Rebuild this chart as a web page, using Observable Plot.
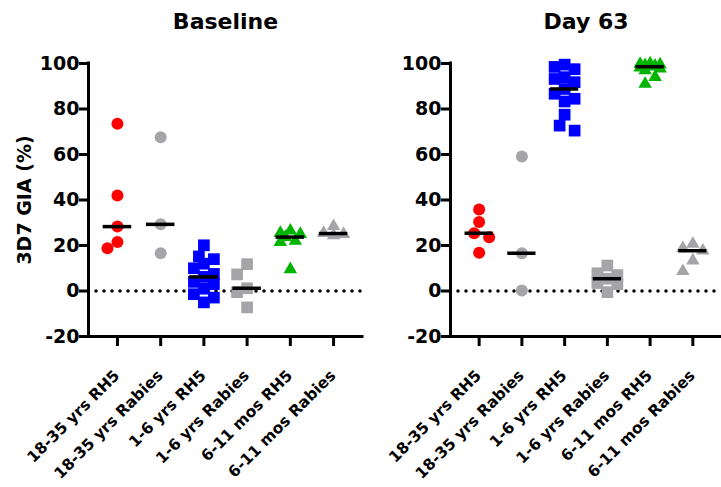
<!DOCTYPE html>
<html>
<head>
<meta charset="utf-8">
<script src="https://cdn.jsdelivr.net/npm/d3@7"></script>
<script src="https://cdn.jsdelivr.net/npm/@observablehq/plot@0.6"></script>
<style>
  html, body { margin: 0; padding: 0; background: #ffffff; }
  #chart { position: relative; width: 721px; height: 487px; overflow: hidden; background: #ffffff; }
  #chart svg { position: absolute; top: 0; max-width: none; }
</style>
</head>
<body>
<div id="chart"></div>
<script>
// ---------- data ----------
const categories = ["18-35 yrs RH5", "18-35 yrs Rabies", "1-6 yrs RH5", "1-6 yrs Rabies", "6-11 mos RH5", "6-11 mos Rabies"];
const panelTitles = ["Baseline", "Day 63"];
const yTicks = [-20, 0, 20, 40, 60, 80, 100];
const yLabel = "3D7 GIA (%)";

// Baseline
const base_18_35_RH5    = [73.5, 42.0, 28.3, 21.5, 18.8];
const base_18_35_Rabies = [67.6, 29.3, 16.6];
const base_1_6_RH5      = [20.1, 15.2, 14.0, 12.0, 10.0, 7.5, 6.2, 4.0, 3.0, 1.0, -1.4, -2.9, -5.0];
const base_1_6_Rabies   = [11.8, 7.3, 1.2, -0.5, -7.2];
const base_6_11_RH5     = [26.5, 25.5, 25.0, 23.7, 22.0, 21.5, 9.5];
const base_6_11_Rabies  = [28.5, 25.5, 25.0, 24.5];

// Day 63
const d63_18_35_RH5     = [35.8, 30.3, 25.4, 23.6, 16.8];
const d63_18_35_Rabies  = [59.1, 16.6, 0.2];
const d63_1_6_RH5       = [99.5, 98.5, 97.5, 94.0, 93.2, 91.8, 88.8, 86.7, 84.5, 83.3, 77.5, 72.7, 70.5];
const d63_1_6_Rabies    = [11.2, 7.8, 7.0, 5.4, 3.5, 3.0, -0.5];
const d63_6_11_RH5      = [100.0, 99.8, 99.5, 99.2, 99.0, 98.6, 98.2, 97.8, 97.0, 94.0, 91.0];
const d63_6_11_Rabies   = [20.7, 18.8, 17.7, 13.4, 8.7];

// ---------- styles ----------
const groupColors = ["#ff0000", "#a5a5a9", "#0000ff", "#a5a5a9", "#00b400", "#a5a5a9"];
const groupShapes = ["circle", "circle", "square", "square", "triangle", "triangle"];
const FONT = "'DejaVu Sans', Verdana, sans-serif";

const panels = [
  [base_18_35_RH5, base_18_35_Rabies, base_1_6_RH5, base_1_6_Rabies, base_6_11_RH5, base_6_11_Rabies],
  [d63_18_35_RH5, d63_18_35_Rabies, d63_1_6_RH5, d63_1_6_Rabies, d63_6_11_RH5, d63_6_11_Rabies]
];

const layouts = [
  {left: 0,   width: 362, marginLeft: 88, showYLabel: true},
  {left: 360, width: 361, marginLeft: 90, showYLabel: false}
];

const xDomain = [-0.67, 5.67];
const yDomain = [-20, 100];
const marginTop = 63, marginBottom = 151, height = 487;

// simple scatter spread (beeswarm-like) computed in pixel space
function spread(values, pxPerY) {
  const step = 5, diam = 12, maxK = 2;
  const order = values.map((v, j) => j).sort((a, b) => values[b] - values[a]);
  const placed = [];
  const offs = new Array(values.length).fill(0);
  const cands = [0];
  for (let k = 1; k <= maxK; k++) cands.push(-k * step, k * step);
  for (const j of order) {
    const py = values[j] * pxPerY;
    let best = 0, bestD = -1;
    for (const c of cands) {
      let md = Infinity;
      for (const p of placed) md = Math.min(md, Math.hypot(c - p[0], py - p[1]));
      if (md >= diam) { best = c; bestD = Infinity; break; }
      if (md > bestD) { bestD = md; best = c; }
    }
    offs[j] = best;
    placed.push([best, py]);
  }
  return offs;
}

function makePanel(p) {
  const L = layouts[p];
  const frameW = L.width - L.marginLeft;
  const frameH = height - marginTop - marginBottom;
  const pxPerX = frameW / (xDomain[1] - xDomain[0]);
  const pxPerY = frameH / (yDomain[1] - yDomain[0]);

  const points = [];
  const medians = [];
  panels[p].forEach((vals, i) => {
    const offs = spread(vals, pxPerY);
    vals.forEach((v, j) => points.push({i, v, x: i + offs[j] / pxPerX, shape: groupShapes[i], color: groupColors[i]}));
    medians.push({i, v: d3.median(vals)});
  });
  const idx = categories.map((c, i) => i);

  const marks = [
    Plot.ruleY([0], {stroke: "black", strokeWidth: 3.5, strokeDasharray: "0 8", strokeLinecap: "round"}),
    Plot.dot(points.filter(d => d.shape === "circle"), {x: "x", y: "v", r: 6, fill: "color", stroke: null, symbol: "circle"}),
    Plot.dot(points.filter(d => d.shape === "square"), {x: "x", y: "v", r: 6.6, fill: "color", stroke: null, symbol: "square"}),
    Plot.dot(points.filter(d => d.shape === "triangle"), {x: "x", y: "v", r: 5, fill: "color", stroke: null, symbol: "triangle"}),
    Plot.ruleY(medians, {y: "v", x1: d => d.i - 0.33, x2: d => d.i + 0.33, stroke: "black", strokeWidth: 3.5}),
    Plot.ruleX([xDomain[0]], {stroke: "black", strokeWidth: 3, strokeLinecap: "square"}),
    Plot.ruleY([yDomain[0]], {stroke: "black", strokeWidth: 3, strokeLinecap: "square"}),
    Plot.axisY({ticks: yTicks, tickSize: 9, tickPadding: 0, strokeWidth: 3, fontSize: 19, fontWeight: "bold",
                fontFamily: FONT, label: null, tickFormat: d => `${d}`}),
    Plot.axisX({ticks: idx, tickSize: 10, strokeWidth: 3, tickFormat: () => "", label: null}),
    Plot.text(idx, {x: d => d, text: d => categories[d], frameAnchor: "bottom", rotate: -45, textAnchor: "end",
                    lineAnchor: "bottom", dx: 3, dy: 40, fontSize: 15.5, fontWeight: "bold", fontFamily: FONT, fill: "black"}),
    Plot.text([panelTitles[p]], {text: d => d, frameAnchor: "top", textAnchor: "middle", lineAnchor: "bottom", dy: -35,
                                 fontSize: 22, fontWeight: "bold", fontFamily: FONT, fill: "black"})
  ];
  if (L.showYLabel) {
    marks.push(Plot.text([yLabel], {text: d => d, frameAnchor: "left", textAnchor: "middle", rotate: -90, lineAnchor: "bottom",
                                    dx: -58, fontSize: 19, fontWeight: "bold", fontFamily: FONT, fill: "black"}));
  }

  const svg = Plot.plot({
    width: L.width,
    height,
    marginLeft: L.marginLeft,
    marginRight: 0,
    marginTop,
    marginBottom,
    x: {domain: xDomain, axis: null},
    y: {domain: yDomain, axis: null},
    style: {background: "transparent", fontFamily: FONT, overflow: "visible"},
    marks
  });
  svg.style.left = L.left + "px";
  return svg;
}

const container = document.getElementById("chart");
container.appendChild(makePanel(0));
container.appendChild(makePanel(1));
</script>
</body>
</html>
